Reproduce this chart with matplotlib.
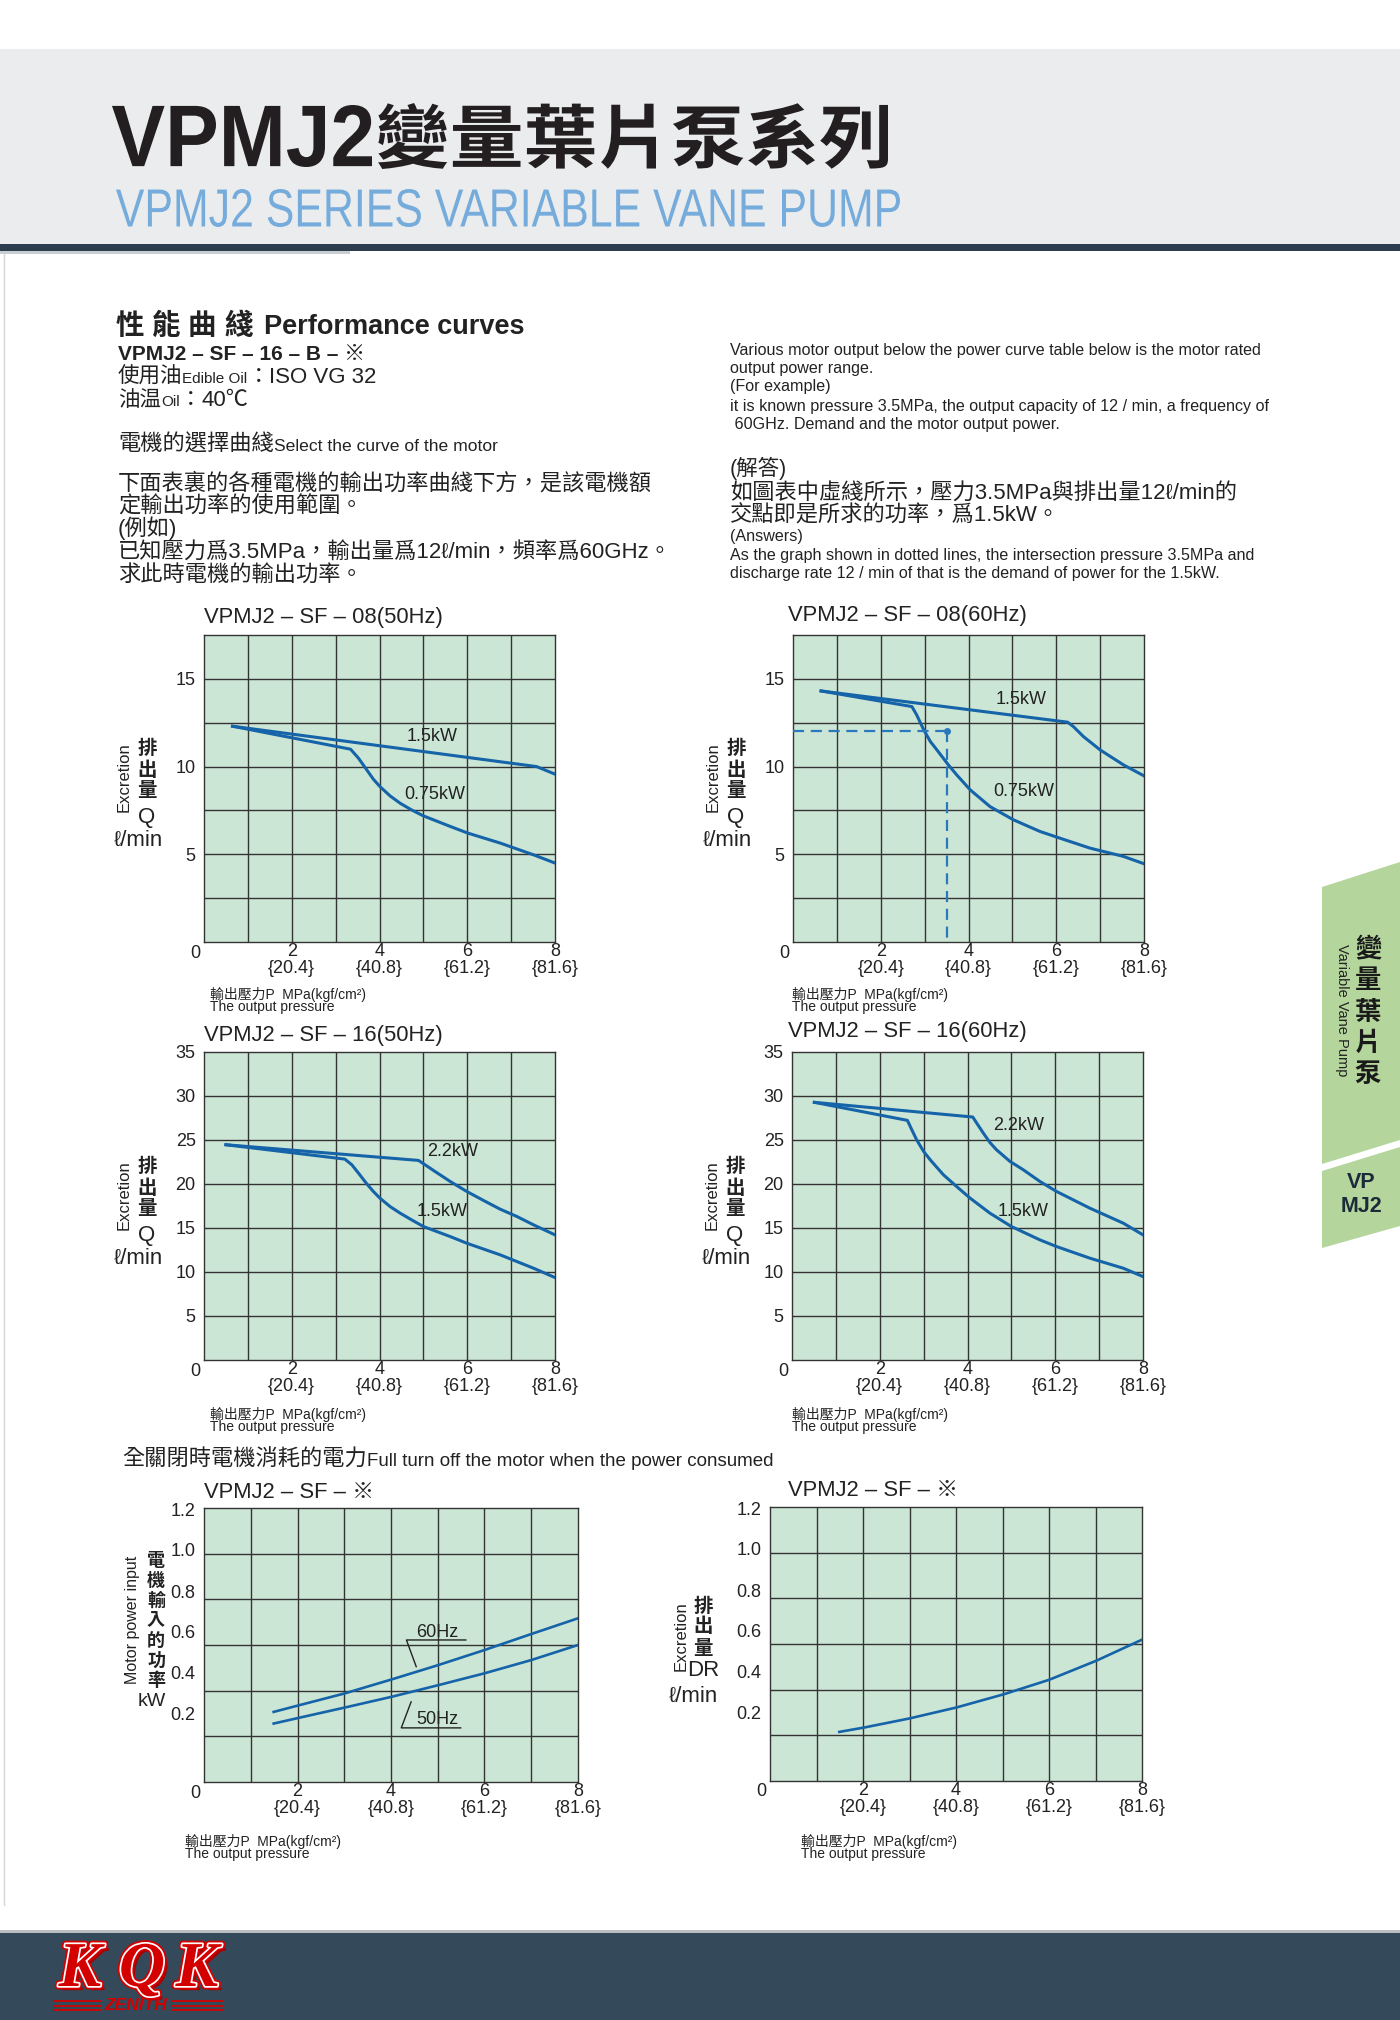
import numpy as np
import matplotlib
matplotlib.use("Agg")
import matplotlib.pyplot as plt
import matplotlib.patheffects as pe
import matplotlib.transforms as mtransforms
from matplotlib.textpath import TextPath
from matplotlib.patches import PathPatch, Polygon
from matplotlib.font_manager import FontProperties

# ---------------- DATA ----------------
x_ticks = [2, 4, 6, 8]
x_tick_labels = ["2\n{20.4}", "4\n{40.8}", "6\n{61.2}", "8\n{81.6}"]

# VPMJ2-SF-08 (50Hz)
p08_50_a = [0.65, 7.58, 8.0]
q08_50_a = [12.3, 10.0, 9.57]
p08_50_b = [0.65, 3.34, 3.52, 3.71, 3.86, 4.01, 4.24, 4.47, 4.73, 5.00, 5.61, 6.01, 6.75, 7.51, 8.0]
q08_50_b = [12.3, 10.99, 10.48, 9.81, 9.28, 8.86, 8.33, 7.91, 7.53, 7.19, 6.59, 6.21, 5.64, 4.97, 4.50]

# VPMJ2-SF-08 (60Hz)
p08_60_a = [0.64, 6.26, 6.39, 6.62, 7.0, 7.53, 8.0]
q08_60_a = [14.31, 12.53, 12.28, 11.71, 10.95, 10.10, 9.47]
p08_60_b = [0.64, 2.71, 2.82, 2.98, 3.13, 3.28, 3.54, 3.73, 4.04, 4.49, 5.02, 5.63, 6.01, 6.77, 7.53, 8.0]
q08_60_b = [14.31, 13.42, 12.94, 12.09, 11.43, 10.95, 10.10, 9.53, 8.67, 7.72, 6.97, 6.30, 5.98, 5.35, 4.88, 4.46]
example_p = 3.5
example_q = 12.0

# VPMJ2-SF-16 (50Hz)
p16_50_a = [0.50, 4.89, 5.04, 5.23, 5.61, 5.99, 6.37, 6.75, 7.13, 7.51, 8.0]
q16_50_a = [24.46, 22.68, 22.18, 21.54, 20.29, 19.15, 18.13, 17.14, 16.31, 15.36, 14.22]
p16_50_b = [0.50, 3.21, 3.37, 3.52, 3.71, 3.86, 4.01, 4.24, 4.47, 4.73, 5.0, 5.61, 5.99, 6.75, 7.51, 8.0]
q16_50_b = [24.46, 22.83, 22.18, 21.24, 20.02, 19.15, 18.39, 17.44, 16.69, 15.93, 15.17, 14.03, 13.27, 11.95, 10.43, 9.37]

# VPMJ2-SF-16 (60Hz)
p16_60_a = [0.51, 4.12, 4.21, 4.36, 4.51, 4.66, 4.97, 5.27, 5.65, 6.03, 6.79, 7.55, 8.0]
q16_60_a = [29.28, 27.61, 26.92, 25.79, 24.72, 23.89, 22.56, 21.62, 20.29, 19.15, 17.25, 15.55, 14.22]
p16_60_b = [0.51, 2.63, 2.73, 2.84, 3.0, 3.15, 3.45, 3.75, 4.06, 4.51, 5.0, 5.65, 6.03, 6.79, 7.55, 8.0]
q16_60_b = [29.28, 27.23, 26.17, 25.03, 23.70, 22.75, 21.05, 19.72, 18.39, 16.69, 15.17, 13.65, 12.89, 11.57, 10.43, 9.48]

# VPMJ2-SF-* motor input power (kW)
p_pow = [1.49, 2.05, 3.01, 4.01, 5.01, 6.0, 7.0, 8.0]
kw_60 = [0.307, 0.337, 0.388, 0.449, 0.512, 0.578, 0.648, 0.717]
kw_50 = [0.256, 0.282, 0.326, 0.373, 0.424, 0.476, 0.534, 0.600]

# VPMJ2-SF-* drain DR
p_dr = [1.49, 2.02, 3.0, 4.01, 5.03, 6.0, 7.02, 8.0]
dr = [0.215, 0.234, 0.274, 0.322, 0.380, 0.443, 0.527, 0.619]

small_ytick_pos = [0.300, 0.478, 0.658, 0.834, 1.017, 1.193]
small_ytick_lab = ["0.2", "0.4", "0.6", "0.8", "1.0", "1.2"]

# ---------------- STYLE ----------------
W, H = 1400, 2020
FAM = ["Liberation Sans", "Noto Sans CJK TC", "DejaVu Sans"]
CJK = ["Noto Sans CJK TC", "Liberation Sans", "DejaVu Sans"]
plt.rcParams["font.family"] = FAM
GREEN = "#cce6d5"
GRID = "#333333"
BLUE = "#1563a8"
TXT = "#222222"
TICK = 13
CURVE_LAB = 13

fig = plt.figure(figsize=(14, 20.2), dpi=100)
fig.patch.set_facecolor("white")
bg = fig.add_axes([0, 0, 1, 1])
bg.set_xlim(0, W)
bg.set_ylim(H, 0)
bg.axis("off")
renderer = fig.canvas.get_renderer()


def fit_text(s, fp, x0, y0, x1, y1, color):
    tp = TextPath((0, 0), s, size=100, prop=fp)
    bb = tp.get_extents()
    sx = (x1 - x0) / bb.width
    sy = (y1 - y0) / bb.height
    tr = (mtransforms.Affine2D().translate(-bb.x0, -bb.y0).scale(sx, -sy)
          .translate(x0, y1) + bg.transData)
    bg.add_patch(PathPatch(tp, transform=tr, facecolor=color, lw=0))


def seq(x, y, parts, color=TXT):
    for p in parts:
        s, size = p[0], p[1]
        weight = p[2] if len(p) > 2 else "normal"
        t = bg.text(x, y, s, fontsize=size, fontweight=weight, va="baseline",
                    ha="left", color=color, family=FAM)
        bb = t.get_window_extent(renderer=renderer)
        x += bb.width + (p[3] if len(p) > 3 else 0)


# ---------------- HEADER ----------------
bg.add_patch(plt.Rectangle((0, 49), W, 196, facecolor="#eaecee", lw=0))
bg.add_patch(plt.Rectangle((0, 244), W, 7, facecolor="#2c3d4d", lw=0))
bg.add_patch(plt.Rectangle((0, 251), 350, 3, facecolor="#c9ced3", lw=0))
fit_text("VPMJ2", FontProperties(family="Liberation Sans", weight="bold"),
         112, 105, 372, 167, "#231f20")
fit_text("變量葉片泵系列", FontProperties(family="Noto Sans CJK TC", weight="bold"),
         378, 103, 888, 169, "#231f20")
fit_text("VPMJ2 SERIES VARIABLE VANE PUMP", FontProperties(family="Liberation Sans"),
         116, 189, 900, 227, "#76acdb")

bg.plot([4, 4], [254, 1905], color="#d6d6d6", lw=1)

# ---------------- INTRO TEXT ----------------
for i, ch in enumerate("性能曲綫"):
    bg.text(116 + i * 36, 334, ch, fontsize=20.5, fontweight="bold", family=CJK,
            va="baseline", color=TXT)
bg.text(264, 334, "Performance curves", fontsize=19.5, fontweight="bold",
        va="baseline", color=TXT)
bg.text(118, 360, "VPMJ2 – SF – 16 – B – ※", fontsize=15, fontweight="bold",
        va="baseline", color=TXT)
seq(118, 383, [("使用油", 15.5), ("Edible Oil", 11), ("：", 15.5), ("ISO VG 32", 16)])
seq(118, 406, [("油温", 15.5), ("Oil", 11), ("：", 15.5), ("40℃", 16)])
seq(118, 451, [("電機的選擇曲綫", 16), ("Select the curve of the motor", 12.6)])
left_lines = ["下面表裏的各種電機的輸出功率曲綫下方，是該電機額",
              "定輸出功率的使用範圍。",
              "(例如)",
              "已知壓力爲3.5MPa，輸出量爲12ℓ/min，頻率爲60GHz。",
              "求此時電機的輸出功率。"]
for s, yb in zip(left_lines, [490, 513, 535, 558, 581]):
    bg.text(118, yb, s, fontsize=16, va="baseline", color=TXT, family=FAM)

right_en = ["Various motor output below the power curve table below is the motor rated",
            "output power range.",
            "(For example)",
            "it is known pressure 3.5MPa, the output capacity of 12 / min, a frequency of",
            " 60GHz. Demand and the motor output power."]
EN = 11.6
for s, yb in zip(right_en, [355, 373, 391, 411, 429]):
    bg.text(730, yb, s, fontsize=EN, va="baseline", color=TXT)
bg.text(730, 475, "(解答)", fontsize=15.5, va="baseline", color=TXT)
bg.text(730, 499, "如圖表中虛綫所示，壓力3.5MPa與排出量12ℓ/min的", fontsize=16,
        va="baseline", color=TXT)
bg.text(730, 522, "交點即是所求的功率，爲1.5kW。", fontsize=16, va="baseline", color=TXT)
bg.text(730, 541, "(Answers)", fontsize=EN, va="baseline", color=TXT)
bg.text(730, 560, "As the graph shown in dotted lines, the intersection pressure 3.5MPa and",
        fontsize=EN, va="baseline", color=TXT)
bg.text(730, 578, "discharge rate 12 / min of that is the demand of power for the 1.5kW.",
        fontsize=EN, va="baseline", color=TXT)

seq(122, 1466, [("全關閉時電機消耗的電力", 16), ("Full turn off the motor when the power consumed", 13.5)])


# ---------------- CHART HELPERS ----------------
def px_axes(x0, y0, x1, y1):
    return fig.add_axes([x0 / W, 1 - y1 / H, (x1 - x0) / W, (y1 - y0) / H])


def style(ax, box, ymax, ystep, yt, ytl, title, title_xy):
    ax.set_facecolor(GREEN)
    ax.set_xlim(0, 8)
    ax.set_ylim(0, ymax)
    for v in range(1, 8):
        ax.axvline(v, color=GRID, lw=1.0, zorder=1)
    for v in np.arange(ystep, ymax - 1e-6, ystep):
        ax.axhline(v, color=GRID, lw=1.0, zorder=1)
    for s in ax.spines.values():
        s.set_color(GRID)
        s.set_linewidth(1.0)
    ax.set_xticks(x_ticks)
    ax.set_xticklabels(x_tick_labels)
    ax.set_yticks(yt)
    ax.set_yticklabels(ytl)
    ax.tick_params(length=0, labelsize=TICK, colors=TXT)
    ax.tick_params(axis="x", pad=1)
    ax.tick_params(axis="y", pad=6)
    for lab in ax.get_xticklabels():
        lab.set_linespacing(1.0)
    x0, y0, x1, y1 = box
    bg.text(x0 - 9, y1 + 11, "0", fontsize=TICK, ha="center", va="center", color=TXT)
    bg.text(title_xy[0], title_xy[1], title, fontsize=15.8, ha="left", va="center", color=TXT)


def xlabel(x, y):
    bg.text(x, y, "輸出壓力P  MPa(kgf/cm²)", fontsize=10, va="baseline", color=TXT)
    bg.text(x, y + 12, "The output pressure", fontsize=10, va="baseline", color=TXT)


def ylabel_q(xl, yc, letter="Q"):
    bg.text(xl - 80, yc, "Excretion", fontsize=12, rotation=90, ha="center",
            va="center", color=TXT)
    for i, ch in enumerate("排出量"):
        bg.text(xl - 57, yc - 28 + i * 21, ch, fontsize=14, fontweight="bold",
                family=CJK, ha="center", va="center", color=TXT)
    bg.text(xl - 57, yc + 40, letter, fontsize=16, ha="center", va="center", color=TXT)
    bg.text(xl - 66, yc + 63, "ℓ/min", fontsize=16, ha="center", va="center", color=TXT)


LW = 2.2

# Chart 1
b1 = (204, 635, 555, 942)
ax1 = px_axes(*b1)
style(ax1, b1, 17.5, 2.5, [5, 10, 15], ["5", "10", "15"], "VPMJ2 – SF – 08(50Hz)", (204, 617))
ax1.plot(p08_50_a, q08_50_a, color=BLUE, lw=LW, zorder=3)
ax1.plot(p08_50_b, q08_50_b, color=BLUE, lw=LW, zorder=3)
ax1.text(5.19, 11.71, "1.5kW", fontsize=CURVE_LAB, ha="center", va="center", color=TXT, zorder=4)
ax1.text(5.27, 8.39, "0.75kW", fontsize=CURVE_LAB, ha="center", va="center", color=TXT, zorder=4)
ylabel_q(204, 777)
xlabel(210, 999)

# Chart 2
b2 = (793, 635, 1144, 942)
ax2 = px_axes(*b2)
style(ax2, b2, 17.5, 2.5, [5, 10, 15], ["5", "10", "15"], "VPMJ2 – SF – 08(60Hz)", (788, 615))
ax2.plot(p08_60_a, q08_60_a, color=BLUE, lw=LW, zorder=3)
ax2.plot(p08_60_b, q08_60_b, color=BLUE, lw=LW, zorder=3)
ax2.plot([0, example_p], [example_q, example_q], color="#2a78bd", lw=1.6,
         ls=(0, (5, 3)), zorder=3)
ax2.plot([example_p, example_p], [example_q, 0], color="#2a78bd", lw=1.6,
         ls=(0, (5, 3)), zorder=3)
ax2.plot([example_p], [example_q], "o", color="#2a78bd", ms=4, zorder=4)
ax2.text(5.21, 13.8, "1.5kW", fontsize=CURVE_LAB, ha="center", va="center", color=TXT, zorder=4)
ax2.text(5.25, 8.58, "0.75kW", fontsize=CURVE_LAB, ha="center", va="center", color=TXT, zorder=4)
ylabel_q(793, 777)
xlabel(792, 999)

# Chart 3
b3 = (204, 1052, 555, 1360)
ax3 = px_axes(*b3)
style(ax3, b3, 35, 5, [5, 10, 15, 20, 25, 30, 35],
      ["5", "10", "15", "20", "25", "30", "35"], "VPMJ2 – SF – 16(50Hz)", (204, 1036))
ax3.plot(p16_50_a, q16_50_a, color=BLUE, lw=LW, zorder=3)
ax3.plot(p16_50_b, q16_50_b, color=BLUE, lw=LW, zorder=3)
ax3.text(5.67, 23.7, "2.2kW", fontsize=CURVE_LAB, ha="center", va="center", color=TXT, zorder=4)
ax3.text(5.42, 16.87, "1.5kW", fontsize=CURVE_LAB, ha="center", va="center", color=TXT, zorder=4)
ylabel_q(204, 1195)
xlabel(210, 1419)

# Chart 4
b4 = (792, 1052, 1143, 1360)
ax4 = px_axes(*b4)
style(ax4, b4, 35, 5, [5, 10, 15, 20, 25, 30, 35],
      ["5", "10", "15", "20", "25", "30", "35"], "VPMJ2 – SF – 16(60Hz)", (788, 1032))
ax4.plot(p16_60_a, q16_60_a, color=BLUE, lw=LW, zorder=3)
ax4.plot(p16_60_b, q16_60_b, color=BLUE, lw=LW, zorder=3)
ax4.text(5.16, 26.66, "2.2kW", fontsize=CURVE_LAB, ha="center", va="center", color=TXT, zorder=4)
ax4.text(5.27, 16.9, "1.5kW", fontsize=CURVE_LAB, ha="center", va="center", color=TXT, zorder=4)
ylabel_q(792, 1195)
xlabel(792, 1419)

# Chart 5
b5 = (204, 1508, 578, 1782)
ax5 = px_axes(*b5)
style(ax5, b5, 1.2, 0.2, small_ytick_pos, small_ytick_lab, "VPMJ2 – SF – ※", (204, 1492))
ax5.plot(p_pow, kw_60, color=BLUE, lw=LW - 0.3, zorder=3)
ax5.plot(p_pow, kw_50, color=BLUE, lw=LW - 0.3, zorder=3)
ax5.text(5.0, 0.655, "60Hz", fontsize=CURVE_LAB, ha="center", va="center", color=TXT, zorder=4)
ax5.plot([5.6, 4.33, 4.54], [0.622, 0.622, 0.505], color=TXT, lw=1.0, zorder=4)
ax5.text(5.0, 0.275, "50Hz", fontsize=CURVE_LAB, ha="center", va="center", color=TXT, zorder=4)
ax5.plot([5.49, 4.22, 4.43], [0.237, 0.237, 0.351], color=TXT, lw=1.0, zorder=4)
bg.text(133, 1620, "Motor power input", fontsize=11.5, rotation=90, ha="center",
        va="center", color=TXT)
for i, ch in enumerate("電機輸入的功率"):
    bg.text(156, 1560 + i * 20, ch, fontsize=13, fontweight="bold", family=CJK,
            ha="center", va="center", color=TXT)
bg.text(152, 1702, "kW", fontsize=14, ha="center", va="center", color=TXT)
xlabel(185, 1846)

# Chart 6
b6 = (770, 1507, 1142, 1781)
ax6 = px_axes(*b6)
style(ax6, b6, 1.2, 0.2, small_ytick_pos, small_ytick_lab, "VPMJ2 – SF – ※", (788, 1490))
ax6.plot(p_dr, dr, color=BLUE, lw=LW - 0.3, zorder=3)
bg.text(681, 1636, "Excretion", fontsize=12, rotation=90, ha="center", va="center", color=TXT)
for i, ch in enumerate("排出量"):
    bg.text(703, 1606 + i * 21, ch, fontsize=14, fontweight="bold", family=CJK,
            ha="center", va="center", color=TXT)
bg.text(703, 1671, "DR", fontsize=16, ha="center", va="center", color=TXT)
bg.text(693, 1696, "ℓ/min", fontsize=16, ha="center", va="center", color=TXT)
xlabel(801, 1846)

# ---------------- SIDE TAB ----------------
bg.add_patch(Polygon([(1322, 887), (1400, 862), (1400, 1140), (1322, 1164)],
                     closed=True, facecolor="#b4d69c", lw=0))
bg.add_patch(Polygon([(1322, 1171), (1400, 1147), (1400, 1226), (1322, 1248)],
                     closed=True, facecolor="#b4d69c", lw=0))
for i, ch in enumerate("變量葉片泵"):
    bg.text(1368, 950 + i * 31, ch, fontsize=19, fontweight="bold", family=CJK,
            ha="center", va="center", color="#1a1a1a")
bg.text(1342, 1010, "Variable Vane Pump", fontsize=10.5, rotation=-90, ha="center",
        va="center", color="#222222")
bg.text(1361, 1182, "VP", fontsize=15.5, fontweight="bold", ha="center", va="center",
        color="#1c2a3a")
bg.text(1361, 1207, "MJ2", fontsize=15.5, fontweight="bold", ha="center", va="center",
        color="#1c2a3a")

# ---------------- FOOTER ----------------
bg.add_patch(plt.Rectangle((0, 1930), W, 3, facecolor="#b9bec3", lw=0))
bg.add_patch(plt.Rectangle((0, 1933), W, H - 1933, facecolor="#34495a", lw=0))
for ch, xc in zip("KQK", [80, 142, 197]):
    bg.text(xc, 1971, ch, fontsize=46, fontweight="bold", style="italic",
            family=["Liberation Serif"], ha="center", va="center", color="#d40000",
            path_effects=[pe.SimplePatchShadow(offset=(3, -3), shadow_rgbFace="#a80000",
                                               alpha=1.0),
                          pe.Stroke(linewidth=5, foreground="#d40000"),
                          pe.Stroke(linewidth=2.5, foreground="white"), pe.Normal()])
for yy in [2001, 2005.5, 2010]:
    bg.plot([54, 100], [yy, yy], color="#d40000", lw=1.3)
    bg.plot([172, 222], [yy, yy], color="#d40000", lw=1.3)
bg.text(136, 2006, "ZENITH", fontsize=12.5, fontweight="bold", style="italic",
        ha="center", va="center", color="#d40000")

fig.savefig("out.png", dpi=100, facecolor="white")
